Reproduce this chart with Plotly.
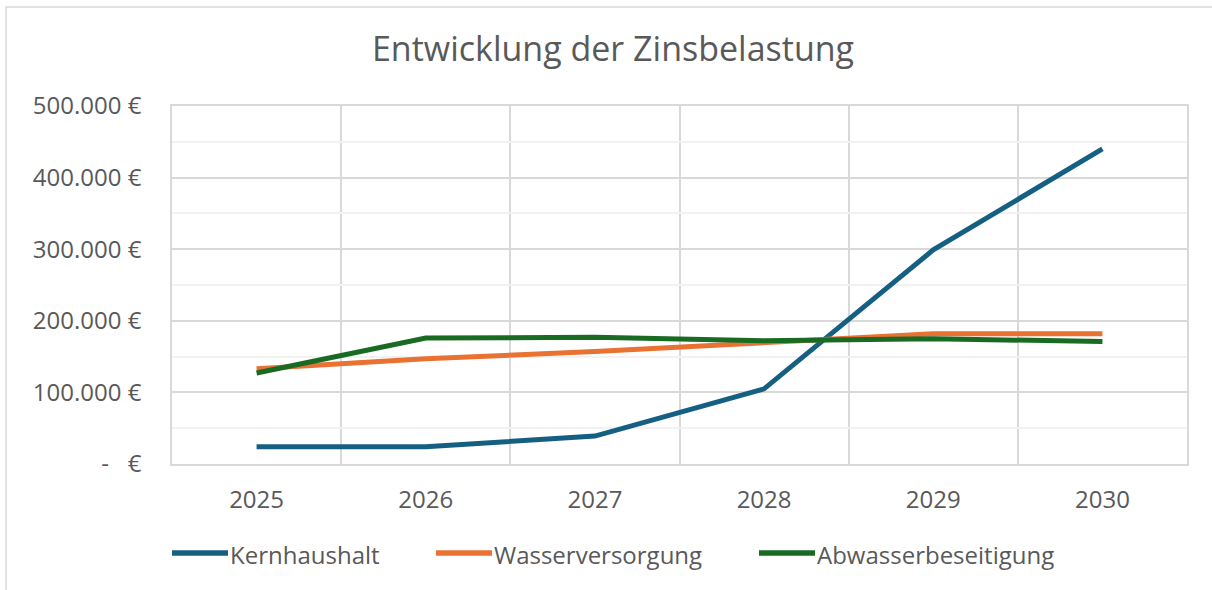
import plotly.graph_objects as go

years = [2025, 2026, 2027, 2028, 2029, 2030]
kernhaushalt = [24000, 24000, 39000, 105000, 299000, 440000]
wasserversorgung = [133000, 147000, 157000, 169000, 182000, 182000]
abwasserbeseitigung = [127000, 176000, 177000, 172000, 175000, 171000]

series_names = ["Kernhaushalt", "Wasserversorgung", "Abwasserbeseitigung"]
series_colors = ["#156082", "#E97132", "#196B24"]

y_tickvals = [0, 100000, 200000, 300000, 400000, 500000]
y_ticktext = ["-\u00a0\u00a0\u00a0€", "100.000 €", "200.000 €", "300.000 €", "400.000 €", "500.000 €"]

FONT = "Open Sans"
GRAY = "#595959"

W, H = 1212, 590
L, R, T, B = 172, 1187, 106, 464
PW, PH = R - L, B - T


def px_x(p):
    return (p - L) / PW


def px_y(p):
    return (B - p) / PH


# Excel-style legend: long line sample followed by the series name
legend_symbol_start = [172, 436, 759]
legend_symbol_len = 56
legend_text_gap = 0
LEG_Y = 553

fig = go.Figure()
for name, vals, col in zip(series_names, [kernhaushalt, wasserversorgung, abwasserbeseitigung],
                           series_colors):
    fig.add_trace(go.Scatter(x=years, y=vals, name=name, mode="lines",
                             line=dict(color=col, width=5), showlegend=False))

shapes = [dict(type="rect", xref="paper", yref="paper",
               x0=px_x(6), x1=px_x(1225), y0=px_y(600), y1=px_y(7),
               line=dict(color="#D9D9D9", width=1.5), fillcolor="rgba(0,0,0,0)", layer="below")]
annotations = []
for s, col, name in zip(legend_symbol_start, series_colors, series_names):
    shapes.append(dict(type="line", xref="paper", yref="paper",
                       x0=px_x(s), x1=px_x(s + legend_symbol_len), y0=px_y(LEG_Y), y1=px_y(LEG_Y),
                       line=dict(color=col, width=5.5)))
    annotations.append(dict(text=name, xref="paper", yref="paper",
                            x=px_x(s + legend_symbol_len + legend_text_gap), y=px_y(LEG_Y + 1),
                            xanchor="left", yanchor="middle", showarrow=False,
                            font=dict(family=FONT, size=24, color=GRAY)))

fig.update_layout(
    width=W, height=H,
    margin=dict(l=L, r=W - R, t=T, b=H - B),
    paper_bgcolor="white", plot_bgcolor="white",
    font=dict(family=FONT, color=GRAY, size=24),
    title=dict(text="Entwicklung der Zinsbelastung", x=613 / W, xref="container",
               xanchor="center", y=1 - 49 / H, yanchor="middle",
               font=dict(family=FONT, size=34, color=GRAY)),
    showlegend=False,
    xaxis=dict(range=[2024.5, 2030.5], tickvals=years, ticktext=[str(y) for y in years],
               showgrid=False, zeroline=False,
               showline=True, linecolor="#D9D9D9", linewidth=1.5, mirror=True,
               ticks="", ticklabelstandoff=13,
               minor=dict(tick0=2024.5, dtick=1, showgrid=True, gridcolor="#D9D9D9", gridwidth=1.5),
               tickfont=dict(family=FONT, size=24, color=GRAY), fixedrange=True),
    yaxis=dict(range=[0, 500000], tickvals=y_tickvals, ticktext=y_ticktext,
               showgrid=True, gridcolor="#D9D9D9", gridwidth=1.5, zeroline=False,
               showline=True, linecolor="#D9D9D9", linewidth=1.5, mirror=True,
               ticks="", ticklabelstandoff=24,
               minor=dict(dtick=50000, showgrid=True, gridcolor="#F2F2F2", gridwidth=1.5),
               tickfont=dict(family=FONT, size=24, color=GRAY), fixedrange=True),
    shapes=shapes,
    annotations=annotations,
)

fig.write_html("out.html", config={"displayModeBar": False},
               post_script="document.body.style.margin='0';document.body.style.overflow='hidden';")
